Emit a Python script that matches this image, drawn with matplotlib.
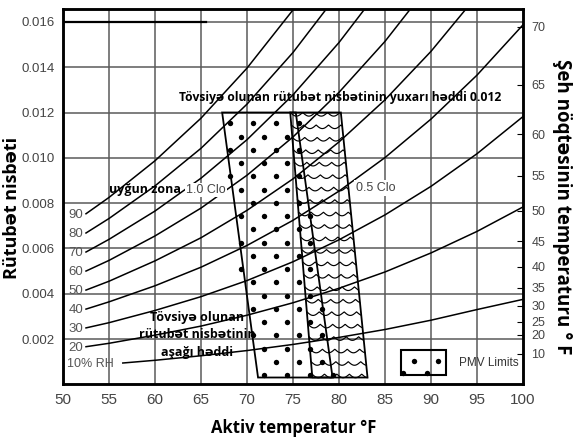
import numpy as np
import matplotlib.pyplot as plt
from matplotlib.path import Path
from matplotlib.patches import Polygon, Rectangle

# dry bulb temperatures (F) at which the RH curves were read
temps = [52.5, 55, 60, 65, 70, 75, 80, 85, 90, 95, 100]
rh90 = [0.00753, 0.00825, 0.00987, 0.01175, 0.01396, 0.01653, 0.01954]
rh80 = [0.00668, 0.00732, 0.00876, 0.01042, 0.01237, 0.01465, 0.01730]
rh70 = [0.00584, 0.00640, 0.00765, 0.00910, 0.01080, 0.01278, 0.01509, 0.01774]
rh60 = [0.00500, 0.00547, 0.00655, 0.00778, 0.00923, 0.01092, 0.01289, 0.01514, 0.01773]
rh50 = [0.00416, 0.00455, 0.00545, 0.00647, 0.00768, 0.00907, 0.01070, 0.01256, 0.01470, 0.01716]
rh40 = [0.00332, 0.00364, 0.00435, 0.00517, 0.00613, 0.00724, 0.00853, 0.01001, 0.01171, 0.01365, 0.01587]
rh30 = [0.00249, 0.00272, 0.00326, 0.00387, 0.00458, 0.00541, 0.00638, 0.00748, 0.00874, 0.01018, 0.01182]
rh20 = [0.00166, 0.00181, 0.00217, 0.00257, 0.00305, 0.00360, 0.00424, 0.00496, 0.00580, 0.00675, 0.00783]
temps10 = [56.5, 60, 65, 70, 75, 80, 85, 90, 95, 100]
rh10 = [0.00094, 0.00106, 0.00126, 0.00149, 0.00176, 0.00207, 0.00242, 0.00283, 0.00330, 0.00375]
rh_names = ['90', '80', '70', '60', '50', '40', '30', '20']

# right axis: dew point temperature and its humidity ratio
dew_points = [70, 65, 60, 55, 50, 45, 40, 35, 30, 25, 20, 10]
dew_ratio = [0.01578, 0.01322, 0.01105, 0.00920, 0.00766, 0.00631,
             0.00520, 0.00427, 0.00346, 0.00276, 0.00219, 0.00135]

# comfort zones (corners: top-left, top-right, bottom-right, bottom-left)
winter_t = [67.3, 75.3, 79.3, 71.2]
winter_w = [0.012, 0.012, 0.0003, 0.0003]
summer_t = [74.7, 80.2, 83.1, 77.1]
summer_w = [0.012, 0.012, 0.0003, 0.0003]

narrow = ['Liberation Sans', 'DejaVu Sans']
bold = ['Open Sans', 'DejaVu Sans']

fig = plt.figure(figsize=(5.73, 4.38), dpi=100)
ax = fig.add_axes([63/573, 53.7/438, 460/573, 375.3/438])
ax.set_xlim(50, 100)
ax.set_ylim(0, 0.01657)

for x in range(55, 100, 5):
    ax.axvline(x, color='#5a5a5a', lw=1.1, zorder=1)
for y in np.arange(0.002, 0.0161, 0.002):
    ax.axhline(y, color='#5a5a5a', lw=1.1, zorder=1)
ax.plot([50, 65.5], [0.016, 0.016], color='k', lw=1.6, zorder=2)

curves = [rh90, rh80, rh70, rh60, rh50, rh40, rh30, rh20]
for name, vals in zip(rh_names, curves):
    ax.plot(temps[:len(vals)], vals, color='k', lw=1.1, zorder=3)
    ax.text(52.2, vals[0] - 0.00006, name, ha='right', va='center',
            fontsize=9.5, color='#555555', family=narrow)
ax.plot(temps10, rh10, color='k', lw=1.1, zorder=3)
ax.text(55.5, rh10[0] - 0.00006, '10% RH', ha='right', va='center',
        fontsize=9, color='#555555', family=narrow)

# zones
ax.add_patch(Polygon(list(zip(winter_t, winter_w)), closed=True, fill=False,
                     ec='k', lw=1.3, zorder=4))
ax.add_patch(Polygon(list(zip(summer_t, summer_w)), closed=True, fill=False,
                     ec='k', lw=1.3, zorder=4))

# dotted pattern inside the 1.0 clo zone
pad = Path([(winter_t[0] - 0.25, 0.0122), (winter_t[1] + 0.25, 0.0122),
            (winter_t[2] + 0.25, 0.0001), (winter_t[3] - 0.25, 0.0001)])
dots = []
for i in range(21):
    w = 0.01152 - i * 0.000585
    x0 = 68.1 if i % 2 == 0 else 69.35
    for x in np.arange(x0 - 5, 84, 2.5):
        dots.append((x, w))
dots = np.array(dots)
dots = dots[pad.contains_points(dots)]
ax.scatter(dots[:, 0], dots[:, 1], s=15, color='k', zorder=5, lw=0)

# wavy pattern inside the 0.5 clo zone
for k in range(22):
    w = 0.012 - k * 0.00055
    if w < 0.0004:
        break
    xl = np.interp(w, [0.0003, 0.012], [summer_t[3], summer_t[0]])
    xr = np.interp(w, [0.0003, 0.012], [summer_t[2], summer_t[1]])
    xs = np.linspace(xl, xr, 150)
    ys = w - 0.00016 * np.abs(np.sin(np.pi * (xs - xl) / 1.35))
    ax.plot(xs, ys, color='k', lw=0.85, zorder=4)

# PMV legend box
ax.add_patch(Rectangle((86.7, 0.0004), 4.9, 0.00112, fill=False, ec='k',
                       lw=1.5, zorder=5))
ax.scatter([88.2, 90.8, 87.0, 89.6], [0.00103, 0.00103, 0.00048, 0.00048],
           s=15, color='k', zorder=6, lw=0)
ax.text(93.0, 0.00094, 'PMV Limits', ha='left', va='center', fontsize=8.5,
        color='#333333', family=narrow)

# annotations
ax.text(80.1, 0.01268, 'Tövsiyə olunan rütubət nisbətinin yuxarı həddi 0.012',
        ha='center', va='center', fontsize=8.7, fontweight='bold', family=bold,
        zorder=7)
ax.text(58.9, 0.00858, 'uyğun zona', ha='center', va='center', fontsize=9,
        fontweight='bold', family=bold, zorder=7)
ax.text(65.5, 0.00858, '1.0 Clo', ha='center', va='center', fontsize=9,
        color='#444444', family=narrow, zorder=7,
        bbox=dict(fc='white', ec='none', pad=0.8))
ax.text(84.0, 0.00867, '0.5 Clo', ha='center', va='center', fontsize=9,
        color='#444444', family=narrow, zorder=7,
        bbox=dict(fc='white', ec='none', pad=1.5))
ax.text(64.6, 0.00218, 'Tövsiyə olunan\nrütubət nisbətinin\naşağı həddi',
        ha='center', va='center', fontsize=9, fontweight='bold', family=bold,
        linespacing=1.45, zorder=7)

ax.set_xticks(range(50, 101, 5))
ax.set_yticks(np.arange(0.002, 0.0161, 0.002))
ax.set_yticklabels(['%.3f' % v for v in np.arange(0.002, 0.0161, 0.002)])
ax.tick_params(length=0, labelsize=9.5, labelcolor='#444444', pad=6)
for lab in ax.get_xticklabels() + ax.get_yticklabels():
    lab.set_family(narrow)
for lab in ax.get_xticklabels():
    lab.set_fontsize(11)
for s in ax.spines.values():
    s.set_linewidth(1.8)

ax2 = ax.twinx()
ax2.set_ylim(ax.get_ylim())
ax2.set_yticks(dew_ratio)
ax2.set_yticklabels([str(d) for d in dew_points])
ax2.tick_params(length=4, direction='in', labelsize=9, labelcolor='#444444', pad=6)
for lab in ax2.get_yticklabels():
    lab.set_family(narrow)
for s in ax2.spines.values():
    s.set_linewidth(1.8)

fig.text(294/573, 1 - 428/438, 'Aktiv temperatur °F', ha='center', va='center',
         fontsize=12, fontweight='bold', family=bold)
fig.text(12/573, 1 - 208/438, 'Rütubət nisbəti', ha='center', va='center',
         rotation=90, fontsize=13, fontweight='bold', family=bold)
fig.text(562/573, 1 - 207/438, 'Şeh nöqtəsinin temperaturu ° F', ha='center',
         va='center', rotation=270, fontsize=13.5, fontweight='bold', family=bold)

fig.savefig('out.png', dpi=100, facecolor='white')
